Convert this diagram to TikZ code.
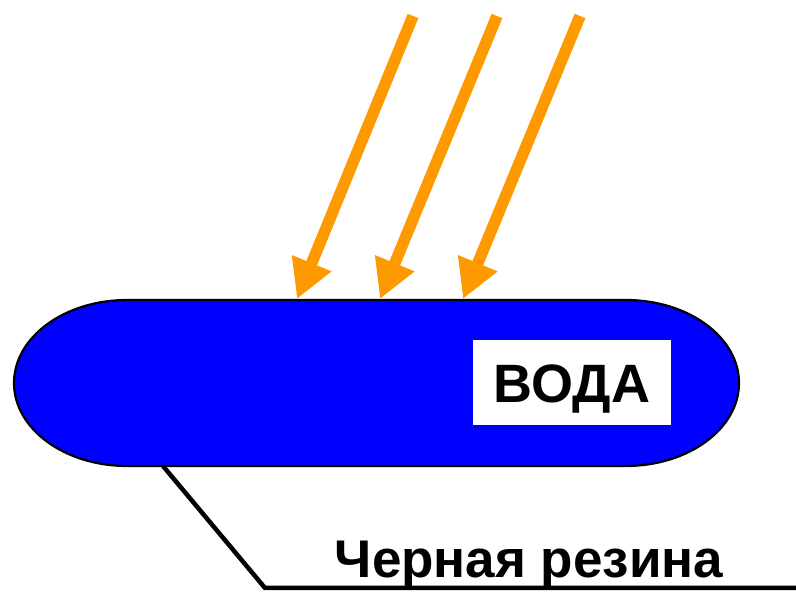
\documentclass[tikz,border=0pt]{standalone}
\usepackage{fontspec}
\setmainfont{Liberation Sans}
\usetikzlibrary{arrows.meta}
\definecolor{sunorange}{RGB}{255,153,0}
\definecolor{waterblue}{RGB}{0,0,255}
\begin{document}
\begin{tikzpicture}[x=1pt,y=1pt,
  ray/.style={draw=sunorange, line width=11.5pt, line cap=butt,
    -{Triangle[length=38.7pt,width=40pt]}, sunorange},
  leader/.style={draw=black, line width=4.5pt, line join=miter},
  bigtext/.style={font=\fontsize{54}{60}\selectfont\bfseries, inner sep=0pt, anchor=base}]
\useasboundingbox (0,0) rectangle (796,592);
% water body
\draw[fill=waterblue, draw=black, line width=2.2pt]
  (127,292) -- (626,292) arc[start angle=90, end angle=-90, x radius=113pt, y radius=83pt]
  -- (127,126) arc[start angle=270, end angle=90, x radius=113pt, y radius=83pt] -- cycle;
% label box
\node[fill=white, minimum width=198pt, minimum height=85pt, inner sep=0pt] (box) at (572,209.5) {};
\node[bigtext] (voda) at (572,189) {ВОДА};
% rays
\coordinate (t1) at (413,576); \coordinate (h1) at (297,293);
\coordinate (t2) at (497,576); \coordinate (h2) at (380,293);
\coordinate (t3) at (580,576); \coordinate (h3) at (463,293);
\draw[ray] (t1) -- (h1);
\draw[ray] (t2) -- (h2);
\draw[ray] (t3) -- (h3);
% leader line
\coordinate (lstart) at (163,126);
\coordinate (lcorner) at (265,4);
\coordinate (lend) at (796,4);
\draw[leader] (lstart) -- (lcorner) -- (lend);
\node[font=\fontsize{53}{60}\selectfont\bfseries, inner sep=0pt, anchor=base] (rubber) at (529,14) {Черная резина};
\end{tikzpicture}
\end{document}
